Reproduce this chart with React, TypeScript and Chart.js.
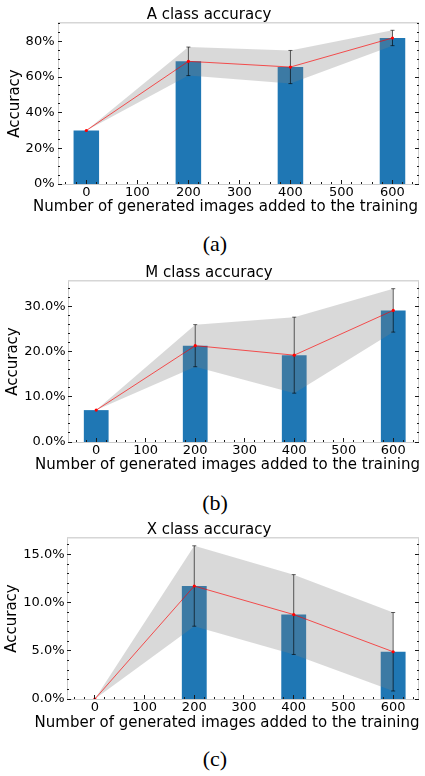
import React, { useEffect, useRef } from 'react';
import { Chart, registerables } from 'chart.js';

Chart.register(...registerables);

// ---------- data ----------
const xValues = [0, 200, 400, 600];
const xTicks = [0, 100, 200, 300, 400, 500, 600];
const xTickLabels = ['0', '100', '200', '300', '400', '500', '600'];
const xAxisTitle = 'Number of generated images added to the training';
const yAxisTitle = 'Accuracy';

const aTitle = 'A class accuracy';
const aMean = [30.0, 68.8, 65.6, 81.9];
const aStd = [0, 8.0, 9.3, 4.3];
const aYTicks = [0, 20, 40, 60, 80];
const aYTickLabels = ['0%', '20%', '40%', '60%', '80%'];
const aYMax = 90.3;
const aYMinorStep = 5;

const bTitle = 'M class accuracy';
const bMean = [7.05, 21.3, 19.2, 29.1];
const bStd = [0, 4.65, 8.4, 4.8];
const bYTicks = [0, 10, 20, 30];
const bYTickLabels = ['0.0%', '10.0%', '20.0%', '30.0%'];
const bYMax = 35.6;
const bYMinorStep = 2;

const cTitle = 'X class accuracy';
const cMean = [0, 11.72, 8.76, 4.9];
const cStd = [0, 4.17, 4.14, 4.07];
const cYTicks = [0, 5, 10, 15];
const cYTickLabels = ['0.0%', '5.0%', '10.0%', '15.0%'];
const cYMax = 16.7;
const cYMinorStep = 1;

const xMinorStep = 20;
const captions = ['(a)', '(b)', '(c)'];

// ---------- layout ----------
const CANVAS_W = 425;
const CANVAS_H = 216;

const FONT = "'DejaVu Sans', sans-serif";

type Panel = {
  title: string;
  mean: number[];
  std: number[];
  yTicks: number[];
  yTickLabels: string[];
  yMax: number;
  yMinor: number;
  xMin: number;
  xMax: number;
  top: number;
  axisLeft: number;
  titlePad: [number, number];
  xHeight: number;
  xTitleX: number;
  xTitleY: number;
  xTickPad: number;
  yTitlePadTop: number;
  yTickPad: number;
  captionTop: number;
};

const panels: Panel[] = [
  {
    title: aTitle, mean: aMean, std: aStd, yTicks: aYTicks, yTickLabels: aYTickLabels,
    yMax: aYMax, yMinor: aYMinorStep, xMin: -55.5, xMax: 650,
    top: 0, axisLeft: 58, titlePad: [7.8, 0.2], xHeight: 32, xTitleX: 225.5, xTitleY: 207.5,
    xTickPad: 1.2, yTitlePadTop: 7.5, yTickPad: 3.5, captionTop: 233,
  },
  {
    title: bTitle, mean: bMean, std: bStd, yTicks: bYTicks, yTickLabels: bYTickLabels,
    yMax: bYMax, yMinor: bYMinorStep, xMin: -57, xMax: 650,
    top: 258, axisLeft: 68, titlePad: [7.8, 0.2], xHeight: 32, xTitleX: 227.5, xTitleY: 207,
    xTickPad: 0.9, yTitlePadTop: 5.8, yTickPad: 2.5, captionTop: 492,
  },
  {
    title: cTitle, mean: cMean, std: cStd, yTicks: cYTicks, yTickLabels: cYTickLabels,
    yMax: cYMax, yMinor: cYMinorStep, xMin: -56, xMax: 650,
    top: 516, axisLeft: 67, titlePad: [6.2, 0.8], xHeight: 33, xTitleX: 227, xTitleY: 206.7,
    xTickPad: 0.9, yTitlePadTop: 4.2, yTickPad: 2.5, captionTop: 748,
  },
];

function makeFramePlugin(p: Panel) {
  return {
    id: 'frame',
    afterDraw(chart: any) {
      const { ctx, chartArea } = chart;
      const { left, right, top, bottom } = chartArea;
      const xs = chart.scales.x;
      const ys = chart.scales.y;
      const al = (v: number) => Math.floor(v) + 0.5;
      ctx.save();
      // spines
      ctx.strokeStyle = '#cccccc';
      ctx.lineWidth = 1;
      ctx.beginPath();
      ctx.moveTo(al(left), top);
      ctx.lineTo(al(left), bottom + 0.5);
      ctx.moveTo(left, al(bottom));
      ctx.lineTo(right, al(bottom));
      ctx.moveTo(al(right), top);
      ctx.lineTo(al(right), bottom + 0.5);
      ctx.stroke();
      ctx.strokeStyle = '#d6d6d6';
      ctx.lineWidth = 1.5;
      ctx.beginPath();
      ctx.moveTo(left, top - 0.25);
      ctx.lineTo(right + 1, top - 0.25);
      ctx.stroke();

      ctx.strokeStyle = '#1a1a1a';
      ctx.lineWidth = 1;
      const isMajor = (v: number, majors: number[]) => majors.some((m) => Math.abs(m - v) < 1e-6);
      // y ticks (left & right)
      const drawY = (v: number, len: number) => {
        const py = al(ys.getPixelForValue(v));
        ctx.beginPath();
        ctx.moveTo(left, py);
        ctx.lineTo(left + len, py);
        ctx.moveTo(right + 1, py);
        ctx.lineTo(right + 1 - len, py);
        ctx.stroke();
      };
      p.yTicks.forEach((v) => drawY(v, 4));
      for (let k = 0; k * p.yMinor <= p.yMax + 1e-9; k++) {
        const v = k * p.yMinor;
        if (!isMajor(v, p.yTicks)) drawY(v, 2);
      }
      // x ticks (bottom)
      const drawX = (v: number, len: number) => {
        const px = al(xs.getPixelForValue(v));
        ctx.beginPath();
        ctx.moveTo(px, bottom);
        ctx.lineTo(px, bottom - len);
        ctx.stroke();
      };
      xTicks.forEach((v) => drawX(v, 4));
      for (let k = Math.ceil(p.xMin / xMinorStep); k * xMinorStep <= p.xMax + 1e-9; k++) {
        const v = k * xMinorStep;
        if (!isMajor(v, xTicks)) drawX(v, 2);
      }
      // x axis title (drawn without width compression)
      ctx.fillStyle = '#000';
      ctx.font = `15px ${FONT}`;
      ctx.textAlign = 'center';
      ctx.textBaseline = 'middle';
      ctx.fillText(xAxisTitle, p.xTitleX, p.xTitleY);
      ctx.restore();
    },
  };
}

function makeConfig(p: Panel): any {
  const barPts = p.mean.map((m, i) => ({ x: xValues[i], y: m }));
  const upper = p.mean.map((m, i) => ({ x: xValues[i], y: m + p.std[i] }));
  const lower = p.mean.map((m, i) => ({ x: xValues[i], y: m - p.std[i] }));
  const errPts: { x: number; y: number | null }[] = [];
  xValues.forEach((x, i) => {
    if (p.std[i] > 0) {
      errPts.push({ x, y: p.mean[i] - p.std[i] }, { x, y: p.mean[i] + p.std[i] }, { x, y: null });
    }
  });
  return {
    type: 'bar',
    data: {
      datasets: [
        {
          type: 'bar', data: barPts, backgroundColor: '#1f77b4', borderWidth: 0,
          categoryPercentage: 0.5, barPercentage: 1, order: 3,
        },
        {
          type: 'line', data: upper, borderColor: 'rgba(0,0,0,0)', borderWidth: 0,
          pointRadius: 0, fill: false, backgroundColor: 'rgba(0,0,0,0)', order: 2,
        },
        {
          type: 'line', data: lower, borderColor: 'rgba(0,0,0,0)', borderWidth: 0,
          pointRadius: 0, fill: '-1', backgroundColor: 'rgba(128,128,128,0.3)', order: 2,
        },
        {
          type: 'line', data: errPts, borderColor: 'rgba(0,0,0,0.62)', borderWidth: 1,
          pointStyle: 'line', pointRadius: 2, pointBorderColor: 'rgba(0,0,0,0.62)',
          pointBorderWidth: 1, spanGaps: false, fill: false, order: 1,
        },
        {
          type: 'line', data: barPts, borderColor: 'rgba(255,0,0,0.65)', borderWidth: 1,
          pointRadius: 1.6, pointBackgroundColor: '#ff0000', pointBorderWidth: 0,
          fill: false, order: 0,
        },
      ],
    },
    options: {
      responsive: false,
      animation: false,
      events: [],
      devicePixelRatio: 1,
      layout: { padding: { left: 0, right: 7, top: 0, bottom: 0 } },
      plugins: {
        legend: { display: false },
        tooltip: { enabled: false },
        title: {
          display: true, text: p.title, color: '#000',
          font: { family: FONT, size: 15, weight: 'normal', lineHeight: 1 },
          padding: { top: p.titlePad[0], bottom: p.titlePad[1] },
        },
      },
      scales: {
        x: {
          type: 'linear', min: p.xMin, max: p.xMax, offset: false,
          grid: { display: false, drawTicks: false },
          border: { display: false },
          afterBuildTicks: (s: any) => { s.ticks = xTicks.map((v) => ({ value: v })); },
          afterFit: (s: any) => { s.height = p.xHeight; },
          ticks: {
            autoSkip: false, maxRotation: 0, minRotation: 0, padding: p.xTickPad, color: '#000',
            font: { family: FONT, size: 13 },
            callback: (v: number) => { const i = xTicks.indexOf(v); return i >= 0 ? xTickLabels[i] : ''; },
          },
          title: { display: false, text: xAxisTitle },
        },
        y: {
          type: 'linear', min: 0, max: p.yMax,
          grid: { display: false, drawTicks: false },
          border: { display: false },
          afterBuildTicks: (s: any) => { s.ticks = p.yTicks.map((v) => ({ value: v })); },
          afterFit: (s: any) => { s.width = p.axisLeft; },
          ticks: {
            autoSkip: false, padding: p.yTickPad, color: '#000',
            font: { family: FONT, size: 13 },
            callback: (v: number) => { const i = p.yTicks.indexOf(v); return i >= 0 ? p.yTickLabels[i] : ''; },
          },
          title: {
            display: true, text: yAxisTitle, color: '#000',
            font: { family: FONT, size: 15, lineHeight: 1 },
            padding: { top: p.yTitlePadTop, bottom: 0 },
          },
        },
      },
    },
    plugins: [makeFramePlugin(p)],
  };
}

function PanelChart({ panel }: { panel: Panel }) {
  const ref = useRef<HTMLCanvasElement | null>(null);
  useEffect(() => {
    if (!ref.current) return;
    const chart = new Chart(ref.current, makeConfig(panel));
    return () => chart.destroy();
  }, [panel]);
  return (
    <div style={{ position: 'absolute', left: 0, top: panel.top, width: CANVAS_W, height: CANVAS_H }}>
      <canvas ref={ref} width={CANVAS_W} height={CANVAS_H} style={{ display: 'block' }} />
    </div>
  );
}

export default function App() {
  return (
    <div style={{ position: 'absolute', left: 0, top: 0, width: 425, height: 776, background: '#fff', overflow: 'hidden' }}>
      {panels.map((p, i) => (
        <React.Fragment key={i}>
          <PanelChart panel={p} />
          <div
            style={{
              position: 'absolute', left: 0, top: p.captionTop, width: 430, textAlign: 'center',
              fontFamily: "'Liberation Serif', 'Times New Roman', serif", fontSize: 22, lineHeight: '22px', color: '#000',
            }}
          >
            {captions[i]}
          </div>
        </React.Fragment>
      ))}
    </div>
  );
}
